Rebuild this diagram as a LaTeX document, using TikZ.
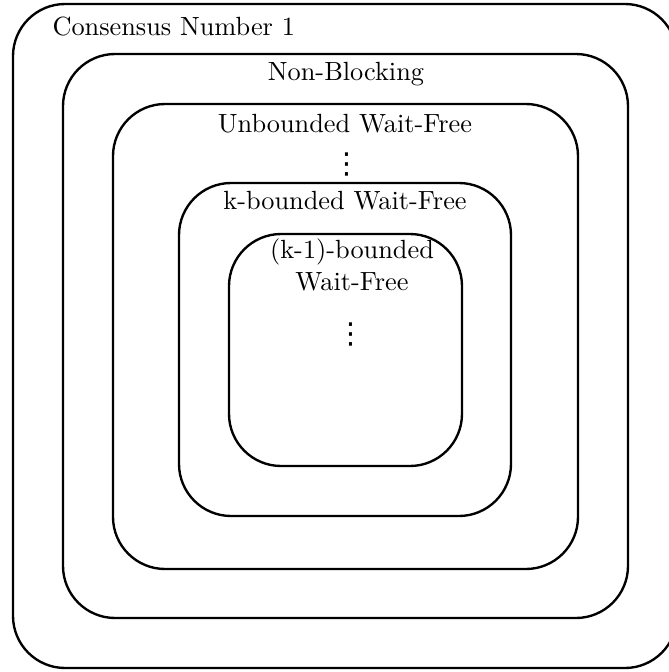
\documentclass[tikz,border=0pt]{standalone}
\usepackage{fontspec}
\newfontfamily\dvsans{DejaVu Sans}
\begin{document}
\begin{tikzpicture}[x=0.38pt,y=-0.38pt,
  frame/.style={draw=black,line width=0.9pt,rounded corners=19.8pt},
  lbl/.style={inner sep=0pt,anchor=base,font=\fontsize{10}{12}\selectfont},
  dots/.style={inner sep=0pt,anchor=center,font=\dvsans\fontsize{11}{11}\selectfont}]
\useasboundingbox (0,0) rectangle (669,672);
\clip (0,0) rectangle (669,672);
\draw[frame] (13,4) rectangle (677,668);
\draw[frame] (63,54) rectangle (628,618);
\draw[frame] (113,104) rectangle (578,569);
\draw[frame] (179,183) rectangle (511,516);
\draw[frame] (229,234) rectangle (462,466);
\node[lbl,anchor=base west] (cn) at (52,35) {Consensus Number 1};
\node[lbl] (nb) at (346,80) {Non-Blocking};
\node[lbl] (uwf) at (345,132) {Unbounded Wait-Free};
\node[dots] (d1) at (347,164) {⋮};
\node[lbl] (kwf) at (345,209) {k-bounded Wait-Free};
\node[lbl] (k1) at (352,258) {(k-1)-bounded};
\node[lbl] (k1b) at (352,290) {Wait-Free};
\node[dots] (d2) at (351,334) {⋮};
\end{tikzpicture}
\end{document}
